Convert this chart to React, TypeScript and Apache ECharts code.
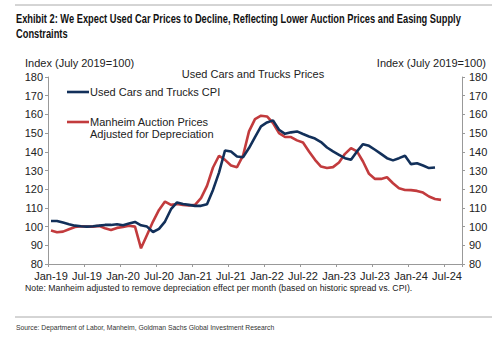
import React, { useEffect, useRef } from "react";
import * as echarts from "echarts";

const years = [19, 20, 21, 22, 23, 24];
const monthNames = ["Jan", "Feb", "Mar", "Apr", "May", "Jun", "Jul", "Aug", "Sep", "Oct", "Nov", "Dec"];
// Jan-19 .. Sep-24
const categories: string[] = [];
years.forEach((y) => {
  monthNames.forEach((m, i) => {
    if (y === 24 && i > 8) return;
    categories.push(`${m}-${y}`);
  });
});

const cpi = [
  103.0, 103.0, 102.2, 101.3, 100.5, 100.2, 100.0, 100.2, 100.5, 100.9,
  100.9, 101.3, 100.7, 101.6, 102.5, 100.7, 100.0, 97.1, 98.8, 102.7,
  109.3, 112.9, 112.1, 111.6, 111.1, 111.1, 112.0, 119.6, 128.9, 140.7,
  140.2, 137.5, 137.1, 142.0, 147.9, 153.6, 155.7, 156.8, 151.8, 149.6,
  150.4, 150.9, 149.5, 148.2, 147.1, 145.2, 142.3, 140.2, 138.4, 136.6,
  135.7, 140.2, 144.1, 143.2, 141.1, 138.9, 136.6, 135.4, 136.6, 137.9,
  133.4, 133.9, 132.7, 131.3, 131.6,
];

const manheim = [
  97.9, 97.0, 97.3, 98.6, 99.8, 100.2, 100.0, 100.0, 100.4, 99.1,
  98.2, 99.3, 99.8, 100.5, 100.0, 88.4, 95.5, 102.7, 108.9, 113.4,
  111.6, 112.1, 111.6, 111.3, 111.6, 115.2, 121.8, 131.6, 137.9, 135.7,
  132.7, 131.8, 137.9, 150.9, 157.5, 159.3, 158.9, 155.4, 150.0, 147.9,
  147.9, 146.1, 145.0, 140.2, 135.7, 132.1, 131.3, 131.8, 134.3, 138.9,
  142.0, 140.2, 134.8, 128.2, 125.5, 125.5, 126.4, 123.2, 120.5, 119.6,
  119.5, 119.1, 118.2, 116.1, 114.8, 114.3,
];

const seriesNames = ["Used Cars and Trucks CPI", "Manheim Auction Prices\nAdjusted for Depreciation"];
const NAVY = "#12305a";
const RED = "#c23b3d";
const FONT = "'Liberation Sans', Arial, sans-serif";
const TXT = "#222";

export default function App() {
  const ref = useRef<HTMLDivElement>(null);
  useEffect(() => {
    if (!ref.current) return;
    const chart = echarts.init(ref.current, undefined, { renderer: "svg" });
    const yAxisBase = {
      type: "value" as const,
      min: 80,
      max: 180,
      interval: 10,
      splitLine: { show: false },
      axisLine: { show: true, lineStyle: { color: "#999", width: 1 } },
      axisTick: { show: true, length: 3, lineStyle: { color: "#999" } },
      axisLabel: { color: TXT, fontFamily: FONT, fontSize: 11 },
    };
    chart.setOption({
      animation: false,
      backgroundColor: "#fff",
      title: [
        {
          text: "Used Cars and Trucks Prices",
          left: 253,
          top: 68,
          padding: 0,
          textAlign: "center",
          textStyle: { fontFamily: FONT, fontWeight: "normal", fontSize: 11, color: TXT },
        },
      ],
      grid: { left: 48, right: 38, top: 77, bottom: 73, containLabel: false },
      xAxis: {
        type: "category",
        data: categories,
        boundaryGap: true,
        axisLine: { show: true, lineStyle: { color: "#999", width: 1 } },
        axisTick: { show: true, interval: 5, length: 3, lineStyle: { color: "#999" } },
        axisLabel: { interval: 5, color: TXT, fontFamily: FONT, fontSize: 11, margin: 6 },
        splitLine: { show: false },
      },
      yAxis: [
        { ...yAxisBase, position: "left", axisLabel: { ...yAxisBase.axisLabel, margin: 5 } },
        { ...yAxisBase, position: "right", axisLabel: { ...yAxisBase.axisLabel, margin: 7 } },
      ],
      series: [
        {
          name: seriesNames[0],
          type: "line",
          data: cpi,
          yAxisIndex: 0,
          showSymbol: false,
          symbol: "none",
          lineStyle: { color: NAVY, width: 2.6 },
          itemStyle: { color: NAVY },
          z: 3,
        },
        {
          name: seriesNames[1],
          type: "line",
          data: manheim,
          yAxisIndex: 0,
          showSymbol: false,
          symbol: "none",
          lineStyle: { color: RED, width: 2.6 },
          itemStyle: { color: RED },
          z: 2,
        },
      ],
      graphic: [
        { type: "line", shape: { x1: 15, y1: 5, x2: 492, y2: 5 }, style: { stroke: "#aaa", lineWidth: 1 } },
        { type: "line", shape: { x1: 15, y1: 317, x2: 492, y2: 317 }, style: { stroke: "#aaa", lineWidth: 1 } },
        {
          type: "text", x: 16, y: 11, scaleX: 0.775,
          style: {
            text: "Exhibit 2: We Expect Used Car Prices to Decline, Reflecting Lower Auction Prices and Easing Supply\nConstraints",
            font: `bold 12px ${FONT}`, lineHeight: 15, fill: "#111", textAlign: "left", textVerticalAlign: "top",
          },
        },
        {
          type: "text", x: 25, y: 63,
          style: { text: "Index (July 2019=100)", font: `11px ${FONT}`, fill: TXT, textAlign: "left", textVerticalAlign: "middle" },
        },
        {
          type: "text", x: 486, y: 63,
          style: { text: "Index (July 2019=100)", font: `11px ${FONT}`, fill: TXT, textAlign: "right", textVerticalAlign: "middle" },
        },
        { type: "line", shape: { x1: 67, y1: 92, x2: 89, y2: 92 }, style: { stroke: NAVY, lineWidth: 2.6 } },
        {
          type: "text", x: 90, y: 92,
          style: { text: "Used Cars and Trucks CPI", font: `11px ${FONT}`, fill: TXT, textAlign: "left", textVerticalAlign: "middle" },
        },
        { type: "line", shape: { x1: 67, y1: 122, x2: 89, y2: 122 }, style: { stroke: RED, lineWidth: 2.6 } },
        {
          type: "text", x: 90, y: 122,
          style: { text: "Manheim Auction Prices", font: `11px ${FONT}`, fill: TXT, textAlign: "left", textVerticalAlign: "middle" },
        },
        {
          type: "text", x: 90, y: 134,
          style: { text: "Adjusted for Depreciation", font: `11px ${FONT}`, fill: TXT, textAlign: "left", textVerticalAlign: "middle" },
        },
        {
          type: "text", x: 25, y: 288, scaleX: 0.92,
          style: { text: "Note: Manheim adjusted to remove depreciation effect per month (based on historic spread vs. CPI).", font: `9.5px ${FONT}`, fill: TXT, textAlign: "left", textVerticalAlign: "middle" },
        },
        {
          type: "text", x: 16, y: 327, scaleX: 0.85,
          style: { text: "Source: Department of Labor, Manheim, Goldman Sachs Global Investment Research", font: `8px ${FONT}`, fill: "#333", textAlign: "left", textVerticalAlign: "middle" },
        },
      ],
    });
    return () => chart.dispose();
  }, []);
  return <div ref={ref} style={{ width: 500, height: 337, position: "absolute", left: 0, top: 0 }} />;
}
